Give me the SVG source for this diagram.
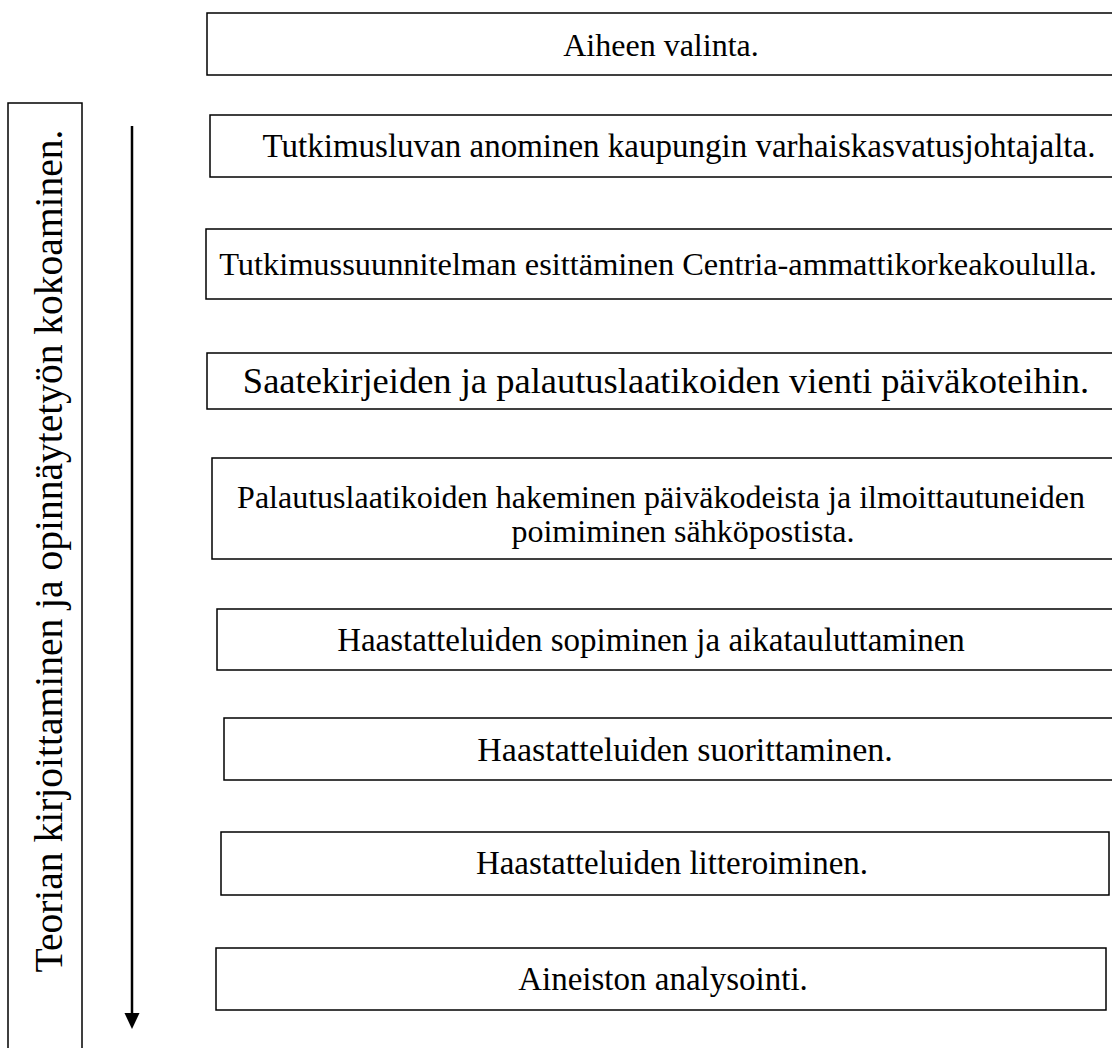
<svg xmlns="http://www.w3.org/2000/svg" width="1112" height="1048" viewBox="0 0 1112 1048">
<style>
  .box { fill: #ffffff; stroke: #000000; stroke-width: 1.5; }
  .t { font-family: "Liberation Serif", "Times New Roman", serif; font-size: 32px; fill: #000000; text-anchor: middle; }
</style>
<rect width="1112" height="1048" fill="#ffffff"/>
<g id="side">
  <rect class="box" x="8" y="103" width="74" height="960"/>
  <text class="t" style="font-size:39.5px" transform="translate(62,551) rotate(-90)">Teorian kirjoittaminen ja opinnäytetyön kokoaminen.</text>
</g>
<g id="connectors">
  <line x1="132" y1="126" x2="132" y2="1014" stroke="#000" stroke-width="2.5"/>
  <path d="M124.5,1013 L139.5,1013 L132,1029 Z" fill="#000"/>
</g>
<g id="n1">
  <rect class="box" x="207" y="13" width="915" height="62"/>
  <text class="t" x="661" y="56">Aiheen valinta.</text>
</g>
<g id="n2">
  <rect class="box" x="210" y="115" width="915" height="62"/>
  <text class="t" style="font-size:33px" x="679" y="157">Tutkimusluvan anominen kaupungin varhaiskasvatusjohtajalta.</text>
</g>
<g id="n3">
  <rect class="box" x="206" y="229" width="915" height="70"/>
  <text class="t" style="font-size:32.4px" x="658" y="275">Tutkimussuunnitelman esittäminen Centria-ammattikorkeakoululla.</text>
</g>
<g id="n4">
  <rect class="box" x="207" y="353" width="915" height="56"/>
  <text class="t" style="font-size:36.5px" x="666" y="393">Saatekirjeiden ja palautuslaatikoiden vienti päiväkoteihin.</text>
</g>
<g id="n5">
  <rect class="box" x="212" y="458" width="915" height="101"/>
  <text class="t" x="661" y="508">Palautuslaatikoiden hakeminen päiväkodeista ja ilmoittautuneiden</text>
  <text class="t" x="683" y="542">poimiminen sähköpostista.</text>
</g>
<g id="n6">
  <rect class="box" x="217" y="609" width="915" height="61"/>
  <text class="t" style="font-size:33px" x="651" y="651">Haastatteluiden sopiminen ja aikatauluttaminen</text>
</g>
<g id="n7">
  <rect class="box" x="224" y="718" width="915" height="62"/>
  <text class="t" style="font-size:34px" x="685" y="761">Haastatteluiden suorittaminen.</text>
</g>
<g id="n8">
  <rect class="box" x="221" y="832" width="888" height="63"/>
  <text class="t" style="font-size:33px" x="672" y="874">Haastatteluiden litteroiminen.</text>
</g>
<g id="n9">
  <rect class="box" x="216" y="948" width="890" height="62"/>
  <text class="t" style="font-size:33px" x="663" y="990">Aineiston analysointi.</text>
</g>
</svg>
